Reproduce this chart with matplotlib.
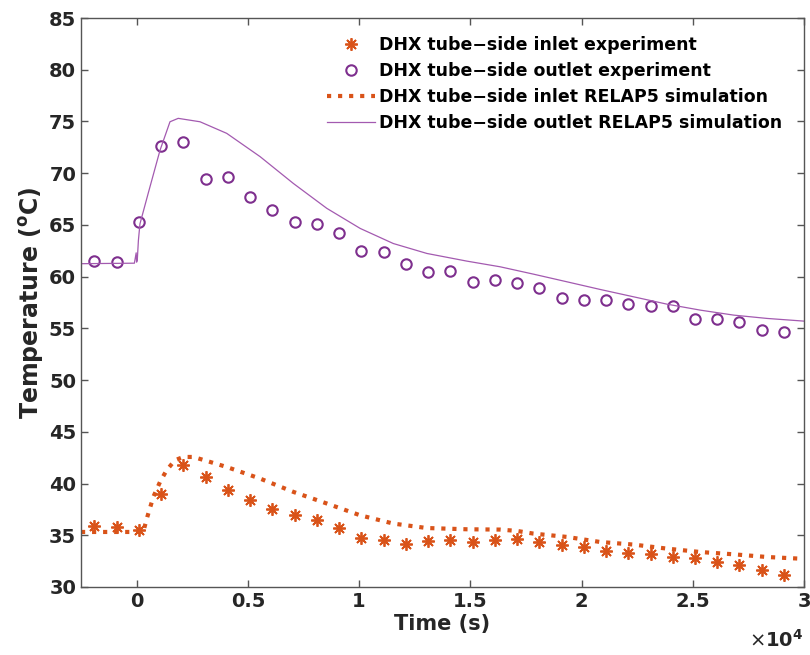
import numpy as np
import matplotlib
matplotlib.use('Agg')
import matplotlib.pyplot as plt

# experiment points, every 1000 s
t_exp = [-1900, -900, 100, 1100, 2100, 3100, 4100, 5100, 6100, 7100, 8100, 9100,
         10100, 11100, 12100, 13100, 14100, 15100, 16100, 17100, 18100, 19100, 20100,
         21100, 22100, 23100, 24100, 25100, 26100, 27100, 28100, 29100]
inlet_exp = [35.87, 35.77, 35.48, 39.03, 41.83, 40.64, 39.35, 38.38, 37.58, 36.93, 36.45, 35.71,
             34.78, 34.52, 34.19, 34.42, 34.58, 34.32, 34.52, 34.65, 34.32, 34.03, 33.87,
             33.45, 33.29, 33.23, 32.90, 32.78, 32.42, 32.10, 31.68, 31.13]
outlet_exp = [61.47, 61.37, 65.27, 72.62, 73.0, 69.46, 69.62, 67.69, 66.40, 65.27, 65.05, 64.24,
              62.47, 62.34, 61.18, 60.43, 60.53, 59.47, 59.66, 59.34, 58.86, 57.95, 57.70,
              57.70, 57.37, 57.15, 57.15, 55.86, 55.92, 55.60, 54.89, 54.66]

# RELAP5 simulation
t_sim_in = [-2500, 0, 300, 480, 750, 1050, 1350, 1720, 2100, 2550, 3300, 4050, 5550, 7050,
            8550, 10050, 11540, 13040, 14845, 16345, 17100, 17840, 19345, 20840, 22340,
            23840, 25345, 26840, 28340, 30000]
inlet_sim = [35.32, 35.32, 35.35, 36.77, 38.7, 40.15, 41.29, 42.25, 42.57, 42.57, 42.09, 41.6,
             40.48, 39.19, 38.07, 36.93, 36.13, 35.70, 35.58, 35.55, 35.42, 35.16, 34.84,
             34.35, 34.1, 33.71, 33.38, 33.16, 32.9, 32.72]

t_sim_out = [-2500, -100, -20, 0, 30, 80, 150, 520, 1050, 1500, 1870, 2850, 4050, 5550, 7050,
             8550, 10050, 11540, 13050, 14845, 16345, 17840, 19345, 20840, 22340, 23840,
             25345, 26840, 28340, 30000]
outlet_sim = [61.25, 61.3, 62.3, 61.4, 61.6, 63.5, 65.1, 68.05, 72.2, 74.97, 75.3, 74.97, 73.85,
              71.6, 69.0, 66.6, 64.66, 63.2, 62.24, 61.5, 60.95, 60.24, 59.5, 58.76, 58.05,
              57.34, 56.76, 56.28, 55.96, 55.7]

orange = '#D95319'
purple = '#7E2F8E'
txt = '#262626'

fig = plt.figure(figsize=(8.1, 6.55), dpi=100)
ax = fig.add_axes([81/810, 68/655, 723/810, 569/655])

ax.plot(t_exp, inlet_exp, linestyle='none', marker=(8, 2, 0), color=orange, markersize=9,
        markeredgewidth=1.3, label='DHX tube\u2212side inlet experiment')
ax.plot(t_exp, outlet_exp, 'o', color=purple, markerfacecolor='none', markersize=7.5,
        markeredgewidth=1.5, label='DHX tube\u2212side outlet experiment')
ax.plot(t_sim_in, inlet_sim, ':', color=orange, linewidth=3,
        label='DHX tube\u2212side inlet RELAP5 simulation')
ax.plot(t_sim_out, outlet_sim, '-', color='#A35AB0', linewidth=0.9,
        label='DHX tube\u2212side outlet RELAP5 simulation')

ax.set_xlim(-2500, 30000)
ax.set_ylim(30, 85)
ax.set_xticks([0, 5000, 10000, 15000, 20000, 25000, 30000])
ax.set_xticklabels(['0', '0.5', '1', '1.5', '2', '2.5', '3'])
ax.set_yticks(np.arange(30, 86, 5))
ax.tick_params(direction='in', top=True, right=True, labelsize=14, length=5,
               color='#555555', width=1)
for lab in ax.get_xticklabels() + ax.get_yticklabels():
    lab.set_fontweight('bold')
    lab.set_color(txt)
for s in ax.spines.values():
    s.set_color('#555555')
    s.set_linewidth(1)

ax.set_xlabel('Time (s)', fontsize=15, fontweight='bold', color=txt, labelpad=2)
ax.set_ylabel('Temperature ($\\mathbf{^{o}}$C)', fontsize=17, fontweight='bold',
              color=txt, labelpad=2)
fig.text(803/810, 4/655, '$\\times$$\\mathbf{10^4}$', fontsize=14, ha='right', va='bottom',
         color=txt)

leg = ax.legend(loc='upper right', frameon=False, handlelength=2.8,
                bbox_to_anchor=(0.992, 0.995), labelspacing=0.45, handletextpad=0.25,
                prop={'weight': 'bold', 'size': 12.5})

fig.savefig('out.png', dpi=100)
